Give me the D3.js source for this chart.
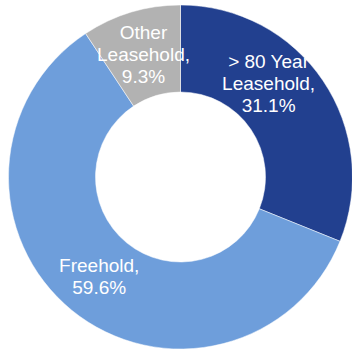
<!DOCTYPE html>
<html>
<head>
<meta charset="utf-8">
<script src="https://cdn.jsdelivr.net/npm/d3@7/dist/d3.min.js"></script>
<style>
  html, body { margin: 0; padding: 0; background: #ffffff; }
  svg { display: block; }
  .slice-label { font-family: "Liberation Sans", Arial, sans-serif; font-size: 19px; fill: #ffffff; }
</style>
</head>
<body>
<svg id="chart" width="352" height="350"></svg>
<script>
const categories = ["> 80 Year Leasehold", "Freehold", "Other Leasehold"];
const shares = [31.1, 59.6, 9.3];
const labelLines = [
  ["> 80 Year", "Leasehold,", "31.1%"],
  ["Freehold,", "59.6%"],
  ["Other", "Leasehold,", "9.3%"]
];
const colors = ["#22408f", "#6e9edb", "#b2b2b2"];
// Excel nudged the first label towards the top
const labelAngleShift = [-12.7, 0, 0];

const width = 352;
const height = 350;
const cx = 180.5;
const cy = 177;
const outerR = 172;
const innerR = 85;
const lineH = 22;

const svg = d3.select("#chart");
const g = svg.append("g").attr("transform", `translate(${cx},${cy})`);

const pie = d3.pie().sort(null).value((d) => d);
const arcs = pie(shares);

const arc = d3.arc().innerRadius(innerR).outerRadius(outerR);

g.selectAll("path.slice")
  .data(arcs)
  .join("path")
  .attr("class", "slice")
  .attr("d", arc)
  .attr("fill", (d, i) => colors[i])
  .attr("stroke", "#ffffff")
  .attr("stroke-width", 0.5);

const midR = (innerR + outerR) / 2;

const labels = g.selectAll("text.slice-label")
  .data(arcs)
  .join("text")
  .attr("class", "slice-label")
  .attr("text-anchor", "middle")
  .attr("transform", (d, i) => {
    const a = (d.startAngle + d.endAngle) / 2 + labelAngleShift[i] * Math.PI / 180;
    return `translate(${midR * Math.sin(a)},${-midR * Math.cos(a)})`;
  });

labels.each(function (d, i) {
  const lines = labelLines[i];
  const top = -((lines.length - 1) * lineH) / 2;
  d3.select(this).selectAll("tspan")
    .data(lines)
    .join("tspan")
    .attr("x", 0)
    .attr("y", (t, k) => top + k * lineH)
    .attr("dy", "0.35em")
    .text((t) => t);
});
</script>
</body>
</html>
